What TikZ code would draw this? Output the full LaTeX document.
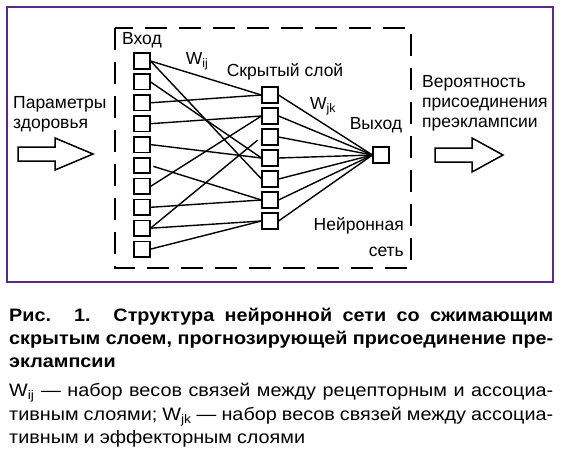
\documentclass[tikz,border=0pt]{standalone}
\usepackage{fontspec}
\setmainfont{Liberation Sans}
\newfontfamily\capfont[FakeStretch=1.1]{Liberation Sans}
\usetikzlibrary{positioning}
\definecolor{nnframe}{RGB}{88,44,140}

\begin{document}
\begin{tikzpicture}[x=1pt, y=-1pt,
  neuron/.style={draw, line width=1.6pt, minimum size=15.5pt, inner sep=0pt},
  lbl/.style={font=\fontsize{17.5}{20}\selectfont, inner sep=0pt},
  link/.style={line width=1.4pt},
  blockarrow/.style={draw, line width=1.5pt, line join=miter},
  capt/.style={anchor=north west, inner sep=0pt, text width=544pt, align=justify}]
\useasboundingbox (0,0) rectangle (562,453);
% Outer frame
\draw[nnframe, line width=2.5pt] (7,7) rectangle (553,282);
% Dashed frame round the network
\draw[line width=1.8pt, dash pattern=on 22pt off 12pt] (115,28) rectangle (411,268);
% Input layer
\foreach \i in {1,...,10}
  \node[neuron] (in\i) at (142,{61+20.9*(\i-1)}) {};
% Hidden layer
\foreach \j in {1,...,7}
  \node[neuron] (hid\j) at (270,{95+21*(\j-1)}) {};
% Output
\node[neuron] (out) at (381,155) {};
% Links W_ij
\foreach \a/\b in {1/1, 1/5, 2/4, 3/1, 4/2, 5/4, 7/2, 8/6, 9/7, 10/7}
  \draw[link] (in\a.east) -- (hid\b.west);
\draw[link, shorten <=3pt] (in6.east) -- (hid6.west);
\draw[link, shorten >=5pt] (in9.east) -- (hid3.west);
% Links W_jk
\foreach \j in {1,...,7}
  \draw[link] (hid\j.east) -- (out.west);
% Labels
\node[lbl] (inlbl) at (142,40) {Вход};
\node[lbl] (wij) at (197,61) {W\textsubscript{ij}};
\node[lbl] (hidlbl) at (285,72) {Скрытый слой};
\node[lbl] (wjk) at (323,106) {W\textsubscript{jk}};
\node[lbl] (outlbl) at (376,125) {Выход};
\node[lbl, anchor=east] (netlbl) at (404,226) {Нейронная};
\node[lbl, anchor=east] (netlbl2) at (404,252) {сеть};
% Input and output
\node[lbl, anchor=north west, align=left] (params) at (13,96) {Параметры\\здоровья};
\draw[blockarrow] (18,147) -- (55,147) -- (55,138) -- (93,154) -- (55,170)
  -- (55,161) -- (18,161) -- cycle;
\node[lbl, anchor=north west, align=left] (prob) at (422,75)
  {Вероятность\\присоединения\\преэклампсии};
\draw[blockarrow] (435,148) -- (472,148) -- (472,138) -- (503,155) -- (472,172)
  -- (472,162) -- (435,162) -- cycle;
% Caption
\node[capt, font=\capfont\fontsize{18}{23}\selectfont\bfseries] (capcap) at (9,308)
  {\spaceskip=0.28em plus 1em minus 0.1em
   Рис. 1. Структура нейронной сети со сжимающим\linebreak
   скрытым слоем, прогнозирующей присоединение пре-\linebreak
   эклампсии};
\node[capt, font=\capfont\fontsize{18}{23.5}\selectfont] (capnote) at (9,383)
  {\spaceskip=0.28em plus 1em minus 0.1em
   W\textsubscript{ij} — набор весов связей между рецепторным и ассоциа-\linebreak
   тивным слоями; W\textsubscript{jk} — набор весов связей между ассоциа-\linebreak
   тивным и эффекторным слоями};
\end{tikzpicture}
\end{document}
